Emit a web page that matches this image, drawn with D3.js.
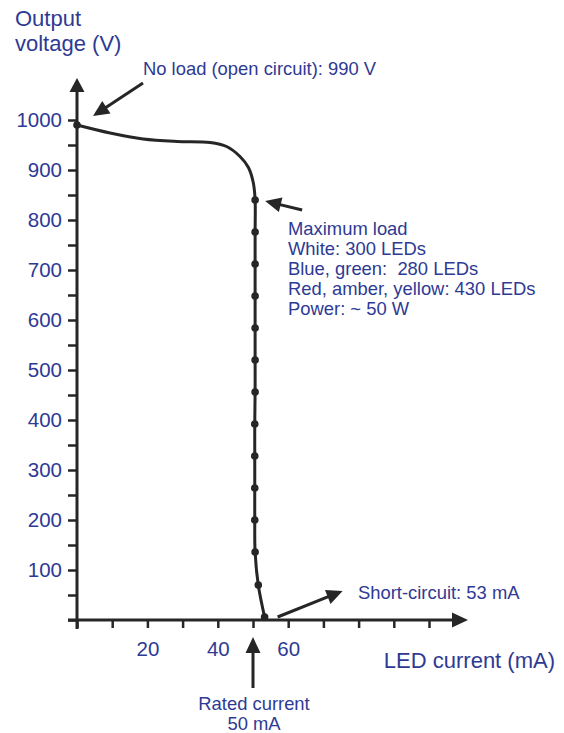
<!DOCTYPE html>
<html><head><meta charset="utf-8">
<script src="https://cdn.jsdelivr.net/npm/d3@7"></script>
<style>body{margin:0;background:#fff}svg{display:block}text{font-family:"Liberation Sans",Arial,sans-serif}</style>
</head><body>
<script>
// Data
const curveCurrent = [0, 9.4, 18.8, 28.4, 37.8, 42.5, 46.3, 48.7, 50.1];
const curveVoltage = [990, 974, 962, 957, 955, 947, 927, 905, 874];
const dotCurrent = [50.6, 50.6, 50.6, 50.6, 50.6, 50.6, 50.6, 50.5, 50.5, 50.5, 50.5, 50.6, 51.5, 53.3];
const dotVoltage = [840, 776, 712, 648, 584, 520, 456, 392, 328, 264, 200, 136, 70, 6];
const yTickLabels = [100, 200, 300, 400, 500, 600, 700, 800, 900, 1000];
const xTickLabels = [20, 40, 60];
const noLoad = {current: 0, voltage: 990, label: "No load (open circuit): 990 V"};
const maxLoad = {current: 50.6, voltage: 840, lines: ["Maximum load", "White: 300 LEDs", "Blue, green:  280 LEDs", "Red, amber, yellow: 430 LEDs", "Power: ~ 50 W"]};
const shortCircuit = {current: 53.3, voltage: 6, label: "Short-circuit: 53 mA"};
const rated = {current: 50, lines: ["Rated current", "50 mA"]};

const W = 564, H = 733;
const ink = "#262626", blue = "#2e3a93";
const annSize = "18.4px";
const svg = d3.select("body").append("svg").attr("width", W).attr("height", H);
const x = d3.scaleLinear().domain([0, 100]).range([77, 429]);
const y = d3.scaleLinear().domain([0, 1000]).range([620, 120]);

function arrowHead(g, tx, ty, angle, len = 15, half = 7) {
  const bx = tx - len * Math.cos(angle), by = ty - len * Math.sin(angle);
  const px = -Math.sin(angle) * half, py = Math.cos(angle) * half;
  g.append("path").attr("d", `M${tx},${ty}L${bx + px},${by + py}L${bx - px},${by - py}Z`).attr("fill", ink);
}
function arrow(g, x1, y1, x2, y2) {
  const a = Math.atan2(y2 - y1, x2 - x1);
  g.append("line").attr("x1", x1).attr("y1", y1).attr("x2", x2 - 10 * Math.cos(a)).attr("y2", y2 - 10 * Math.sin(a))
    .attr("stroke", ink).attr("stroke-width", 3);
  arrowHead(g, x2, y2, a, 16, 7.5);
}

// Y axis
const yAxis = d3.axisLeft(y).tickValues(d3.range(0, 1001, 50)).tickSize(9).tickPadding(6)
  .tickFormat(d => yTickLabels.includes(d) ? d : "");
const gy = svg.append("g").attr("transform", `translate(${x(0)},0)`).call(yAxis);
gy.select(".domain").remove();
gy.selectAll(".tick line").attr("stroke", ink).attr("stroke-width", 2.5);
gy.selectAll(".tick text").attr("fill", blue).style("font-size", "20.5px").style("font-family", "Liberation Sans, Arial, sans-serif");

// X axis
const xAxis = d3.axisBottom(x).tickValues(d3.range(0, 101, 10)).tickSize(8).tickPadding(13)
  .tickFormat(d => xTickLabels.includes(d) ? d : "");
const gx = svg.append("g").attr("transform", `translate(0,${y(0)})`).call(xAxis);
gx.select(".domain").remove();
gx.selectAll(".tick line").attr("stroke", ink).attr("stroke-width", 2.5);
gx.selectAll(".tick text").attr("fill", blue).style("font-size", "20.5px").style("font-family", "Liberation Sans, Arial, sans-serif");

// Axis lines with arrows
const ax = svg.append("g");
ax.append("line").attr("x1", x(0)).attr("x2", x(0)).attr("y1", y(0) + 9).attr("y2", 88).attr("stroke", ink).attr("stroke-width", 3);
arrowHead(ax, x(0), 78, -Math.PI / 2, 14, 7.5);
ax.append("line").attr("x1", x(0) - 9).attr("x2", 456).attr("y1", y(0)).attr("y2", y(0)).attr("stroke", ink).attr("stroke-width", 3);
arrowHead(ax, 468, y(0), 0, 16, 7.5);

// Curve
const pts = curveCurrent.map((c, i) => [c, curveVoltage[i]]).concat(dotCurrent.map((c, i) => [c, dotVoltage[i]]));
const line = d3.line().x(d => x(d[0])).y(d => y(d[1])).curve(d3.curveCatmullRom.alpha(0.5));
svg.append("path").datum(pts).attr("d", line).attr("fill", "none").attr("stroke", ink).attr("stroke-width", 3);
const dots = [[curveCurrent[0], curveVoltage[0]]].concat(dotCurrent.map((c, i) => [c, dotVoltage[i]]));
svg.append("g").selectAll("circle").data(dots).join("circle")
  .attr("cx", d => x(d[0])).attr("cy", d => y(d[1])).attr("r", 3.8).attr("fill", ink);

// Titles
const t = svg.append("g").attr("fill", blue);
t.append("text").attr("x", 15).attr("y", 26).style("font-size", "22px").text("Output");
t.append("text").attr("x", 15).attr("y", 51).style("font-size", "22px").text("voltage (V)");
t.append("text").attr("x", 555).attr("y", 668).attr("text-anchor", "end").style("font-size", "22px").text("LED current (mA)");

// Annotations
const an = svg.append("g");
arrow(an, x(noLoad.current) + 66, y(noLoad.voltage) - 42, x(noLoad.current) + 16, y(noLoad.voltage) - 9);
an.append("text").attr("x", 143).attr("y", 75).attr("fill", blue).style("font-size", annSize).text(noLoad.label);

arrow(an, x(maxLoad.current) + 47, y(maxLoad.voltage) + 10, x(maxLoad.current) + 10, y(maxLoad.voltage) + 1);
maxLoad.lines.forEach((s, i) => an.append("text").attr("x", 288).attr("y", 235 + i * 20).attr("fill", blue)
  .style("font-size", annSize).style("white-space", "pre").attr("xml:space", "preserve").text(s));

arrow(an, x(shortCircuit.current) + 13, y(shortCircuit.voltage) - 0, x(shortCircuit.current) + 78, y(shortCircuit.voltage) - 26);
an.append("text").attr("x", 358).attr("y", 599).attr("fill", blue).style("font-size", annSize).text(shortCircuit.label);

arrow(an, x(rated.current), 688, x(rated.current), 637);
rated.lines.forEach((s, i) => an.append("text").attr("x", x(rated.current) + 1).attr("y", 710 + i * 20).attr("text-anchor", "middle")
  .attr("fill", blue).style("font-size", annSize).text(s));
</script>
</body></html>
